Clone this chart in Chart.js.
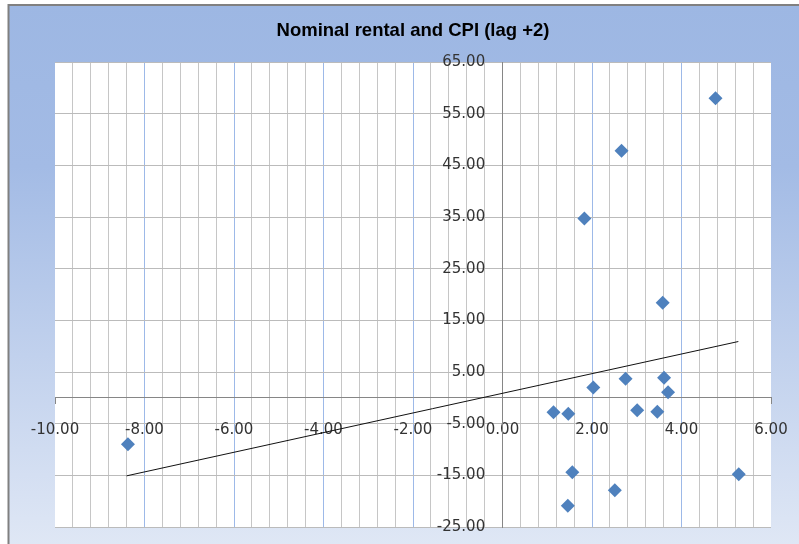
<!DOCTYPE html>
<html>
<head>
<meta charset="utf-8">
<script src="https://cdn.jsdelivr.net/npm/chart.js@4"></script>
<style>
  html, body { margin: 0; padding: 0; background: #fff; }
</style>
</head>
<body>
<canvas id="rentalChart" width="799" height="544"></canvas>
<script>
// CPI change (x) vs nominal rental change two periods later (y)
const cpiValues    = [-8.37, 4.76, 2.66, 1.83, 3.58, 2.03, 2.75, 3.61, 3.70, 1.14, 1.47, 3.01, 3.46, 1.56, 2.51, 1.46, 5.28];
const rentalValues = [-9.0, 58.0, 47.8, 34.7, 18.4, 2.0, 3.7, 3.9, 1.1, -2.8, -3.1, -2.4, -2.7, -14.4, -17.9, -20.9, -14.8];

// linear trendline end points, as drawn
const trendX = [-8.40, 5.27];
const trendY = [-15.1, 10.9];

const labelFont = { family: '"DejaVu Sans", Verdana, sans-serif', size: 15 };
const isMajor = v => Math.abs(v / 2 - Math.round(v / 2)) < 1e-6;

// Excel style frame: blue gradient behind, white plot area
const frameBackground = {
    id: 'frameBackground',
    beforeDraw(chart) {
        const c = chart.ctx;
        const w = chart.width, h = chart.height;
        const a = chart.chartArea;
        c.save();
        c.fillStyle = '#ffffff';
        c.fillRect(0, 0, w, h);
        const g = c.createLinearGradient(0, 5, 0, h);
        g.addColorStop(0, '#9DB7E3');
        g.addColorStop(0.3, '#A3BBE5');
        g.addColorStop(1, '#DFE7F5');
        c.fillStyle = g;
        c.fillRect(8, 5, w - 8, h - 5);
        c.strokeStyle = '#808080';
        c.lineWidth = 2;
        c.beginPath();
        c.moveTo(8.5, h);
        c.lineTo(8.5, 5);
        c.lineTo(w, 5);
        c.stroke();
        c.fillStyle = '#ffffff';
        c.fillRect(a.left, a.top, a.right - a.left, a.bottom - a.top);
        c.restore();
    }
};

// the centred axes should not push the plot area around
const noLabelPadding = scale => {
    scale.paddingLeft = 0;
    scale.paddingRight = 0;
    scale.paddingTop = 0;
    scale.paddingBottom = 0;
};

const points = cpiValues.map((x, i) => ({ x: x, y: rentalValues[i] }));
const trend = trendX.map((x, i) => ({ x: x, y: trendY[i] }));

new Chart(document.getElementById('rentalChart').getContext('2d'), {
    type: 'scatter',
    data: {
        datasets: [
            {
                type: 'line',
                label: 'Linear trend',
                data: trend,
                borderColor: '#111111',
                borderWidth: 1,
                pointRadius: 0,
                fill: false
            },
            {
                label: 'Nominal rental',
                data: points,
                pointStyle: 'rectRot',
                pointRadius: 7,
                pointBorderWidth: 0,
                backgroundColor: '#4F81BD',
                borderColor: '#4F81BD'
            }
        ]
    },
    options: {
        responsive: false,
        animation: false,
        layout: {
            padding: { left: 55, right: 28, top: 0, bottom: 17 }
        },
        plugins: {
            legend: { display: false },
            tooltip: { enabled: false },
            title: {
                display: true,
                text: 'Nominal rental and CPI (lag +2)',
                color: '#000000',
                font: { family: '"Liberation Sans", Arial, sans-serif', size: 18.5, weight: 'bold', lineHeight: 1.2 },
                padding: { top: 20, bottom: 19.8 }
            }
        },
        scales: {
            x: {
                type: 'linear',
                position: { y: 0 },
                min: -10,
                max: 6,
                afterFit: noLabelPadding,
                border: { color: '#868686', width: 1 },
                grid: {
                    color: ctx => {
                        const v = ctx.tick.value;
                        if (v === -10 || v === 6) return 'rgba(0,0,0,0)';
                        if (v === 0) return '#868686';
                        return isMajor(v) ? '#9DB9E8' : '#C6C6C6';
                    },
                    tickColor: ctx => (ctx.tick.value === -10 || ctx.tick.value === 6) ? '#868686' : 'rgba(0,0,0,0)',
                    tickLength: 6
                },
                ticks: {
                    stepSize: 0.4,
                    autoSkip: false,
                    maxRotation: 0,
                    padding: 17,
                    color: '#333333',
                    font: labelFont,
                    callback: v => isMajor(v) ? v.toFixed(2) : ''
                }
            },
            y: {
                type: 'linear',
                position: { x: 0 },
                min: -25,
                max: 65,
                afterFit: noLabelPadding,
                border: { color: '#868686', width: 1 },
                grid: { color: '#BBBBBB', drawTicks: false },
                ticks: {
                    stepSize: 10,
                    color: '#333333',
                    font: labelFont,
                    // centred axes ignore tick padding, so trailing spaces keep the gap to the axis
                    callback: v => v.toFixed(2) + '   \u2009'
                }
            }
        }
    },
    plugins: [frameBackground]
});
</script>
</body>
</html>
